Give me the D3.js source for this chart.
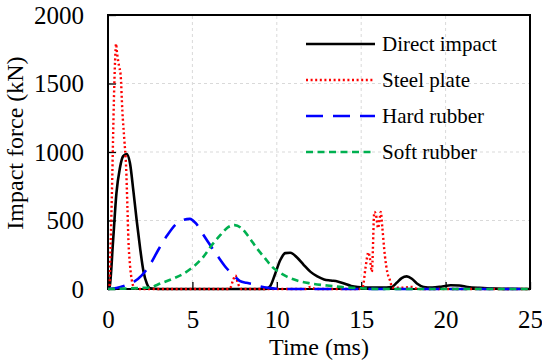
<!DOCTYPE html>
<html>
<head>
<meta charset="utf-8">
<script src="https://cdn.jsdelivr.net/npm/d3@7"></script>
<style>
  body { margin: 0; background: #fff; }
  svg, svg text { font-family: "Liberation Serif", "Times New Roman", serif; }
  svg { display: block; }
</style>
</head>
<body>
<svg id="chart"></svg>
<script>
// series names
var seriesNames = ["Direct impact", "Steel plate", "Hard rubber", "Soft rubber"]

// Direct impact (black solid)
var directT = [0, 0.1, 0.3, 0.5, 0.7, 0.9, 1.1, 1.3, 1.5, 1.7, 1.9, 2.1, 2.3, 2.5, 3, 5, 8, 9.3, 9.6, 9.9, 10.2, 10.5, 10.8, 11.2, 11.6, 12.0, 12.4, 12.8, 13.2, 13.6, 14.0, 14.4, 14.8, 15.5, 16.2, 16.8, 17.1, 17.4, 17.7, 18.0, 18.3, 18.7, 19.2, 19.8, 20.3, 20.8, 21.3, 22, 23, 25]
var directF = [0, 20, 350, 700, 880, 970, 985, 920, 720, 500, 300, 130, 40, 5, 0, 0, 0, 0, 20, 110, 210, 262, 265, 230, 175, 125, 92, 70, 62, 55, 40, 22, 14, 10, 10, 15, 45, 80, 92, 75, 40, 15, 10, 18, 27, 25, 15, 8, 3, 0]

// Steel plate (red dotted)
var steelT = [0, 0.08, 0.15, 0.25, 0.3, 0.35, 0.42, 0.48, 0.52, 0.56, 0.65, 0.75, 0.85, 0.97, 1.07, 1.15, 1.21, 1.3, 1.41, 1.55, 1.7, 3, 7.2, 7.4, 7.55, 7.7, 7.9, 11.7, 12.0, 12.3, 14.9, 15.1, 15.25, 15.43, 15.52, 15.63, 15.78, 15.88, 16.0, 16.1, 16.16, 16.25, 16.4, 16.55, 16.7, 16.85, 17.5, 18.0, 18.4, 25]
var steelF = [0, 0, 300, 800, 1100, 1380, 1667, 1790, 1740, 1700, 1630, 1560, 1300, 1084, 900, 600, 357, 180, 65, 10, 0, 0, 0, 60, 100, 40, 0, 0, 15, 0, 0, 20, 150, 268, 220, 126, 563, 540, 444, 520, 563, 450, 247, 120, 65, 10, 10, 15, 0, 0]

// Hard rubber (blue long dash)
var hardT = [0, 0.5, 1, 1.5, 2, 2.5, 3, 3.5, 4, 4.5, 4.85, 5.2, 5.6, 6, 6.5, 7, 7.5, 7.8, 8.2, 8.6, 9, 9.5, 10, 11, 25]
var hardF = [0, 8, 25, 50, 100, 180, 290, 390, 470, 505, 512, 480, 405, 330, 240, 155, 92, 60, 45, 35, 20, 8, 2, 0, 0]

// Soft rubber (green dashed)
var softT = [0, 1, 2, 2.5, 3.1, 3.9, 4.5, 5.05, 5.65, 6.15, 6.65, 7.1, 7.5, 7.9, 8.4, 8.8, 9.3, 9.7, 10.2, 10.6, 11.2, 12, 13, 14, 15, 16, 25]
var softF = [0, 3, 8, 12, 40, 78, 114, 162, 235, 320, 393, 450, 466, 445, 370, 300, 225, 165, 118, 90, 62, 41, 25, 12, 5, 0, 0]

var xTicks = [0, 5, 10, 15, 20, 25]
var yTicks = [0, 500, 1000, 1500, 2000]

var dimensions = {
    width: 542,
    height: 363,
    margin: { top: 15, bottom: 74, right: 12, left: 108 }
}

var svg = d3.select("#chart")
    .attr("width", dimensions.width)
    .attr("height", dimensions.height)

var xScale = d3.scaleLinear()
    .domain([0, 25])
    .range([dimensions.margin.left, dimensions.width - dimensions.margin.right])

var yScale = d3.scaleLinear()
    .domain([0, 2000])
    .range([dimensions.height - dimensions.margin.bottom, dimensions.margin.top])

// grid
svg.append("g")
    .selectAll("line")
    .data(xTicks.slice(1, -1))
    .enter()
    .append("line")
    .attr("x1", d => xScale(d)).attr("x2", d => xScale(d))
    .attr("y1", yScale(0)).attr("y2", yScale(2000))
    .attr("stroke", "#d9d9d9").attr("stroke-dasharray", "3,3")

svg.append("g")
    .selectAll("line")
    .data(yTicks.slice(1, -1))
    .enter()
    .append("line")
    .attr("y1", d => yScale(d)).attr("y2", d => yScale(d))
    .attr("x1", xScale(0)).attr("x2", xScale(25))
    .attr("stroke", "#d9d9d9").attr("stroke-dasharray", "3,3")

// axes
var xAxisGen = d3.axisBottom(xScale).tickValues(xTicks).tickFormat(d3.format("d"))
    .tickSizeInner(-7).tickSizeOuter(0).tickPadding(21)
var xAxis = svg.append("g")
    .attr("transform", `translate(0,${yScale(0)})`)
    .call(xAxisGen)
    .attr("font-family", null)
    .attr("font-size", 25)

var yAxisGen = d3.axisLeft(yScale).tickValues(yTicks).tickFormat(d3.format("d"))
    .tickSizeInner(-8).tickSizeOuter(0).tickPadding(24)
var yAxis = svg.append("g")
    .attr("transform", `translate(${xScale(0)},0)`)
    .call(yAxisGen)
    .attr("font-family", null)
    .attr("font-size", 25)

svg.selectAll(".tick text").attr("fill", "#000")
svg.selectAll(".tick line").attr("stroke", "#000").attr("stroke-width", 1.3)
svg.selectAll(".domain").remove()

// frame
svg.append("rect")
    .attr("x", xScale(0)).attr("y", yScale(2000))
    .attr("width", xScale(25) - xScale(0))
    .attr("height", yScale(0) - yScale(2000))
    .attr("fill", "none").attr("stroke", "#000").attr("stroke-width", 2)

// series
var series = [
    { name: seriesNames[0], t: directT, f: directF, color: "#000000", dash: null, width: 2.6 },
    { name: seriesNames[1], t: steelT, f: steelF, color: "#ff0000", dash: "2,2.6", width: 2.4 },
    { name: seriesNames[2], t: hardT, f: hardF, color: "#0000ff", dash: "17,10", width: 2.6 },
    { name: seriesNames[3], t: softT, f: softF, color: "#00b050", dash: "7,4.5", width: 2.6 }
]

var line = d3.line()
    .x(d => xScale(d[0]))
    .y(d => yScale(d[1]))
    .curve(d3.curveMonotoneX)

svg.append("g")
    .selectAll("path")
    .data(series)
    .enter()
    .append("path")
    .attr("d", s => line(s.t.map((t, i) => [t, s.f[i]])))
    .attr("fill", "none")
    .attr("stroke", s => s.color)
    .attr("stroke-width", s => s.width)
    .attr("stroke-dasharray", s => s.dash)

// legend
var legend = svg.append("g")
    .selectAll("g")
    .data(series)
    .enter()
    .append("g")
    .attr("transform", (d, i) => `translate(306,${44 + i * 36})`)

legend.append("line")
    .attr("x1", 0).attr("x2", 69)
    .attr("stroke", d => d.color)
    .attr("stroke-width", d => d.width)
    .attr("stroke-dasharray", d => d.dash)

legend.append("text")
    .attr("x", 76)
    .attr("dy", "0.33em")
    .attr("font-size", 21)
    .text(d => d.name)

// titles
svg.append("text")
    .attr("x", (xScale(0) + xScale(25)) / 2)
    .attr("y", 355)
    .attr("text-anchor", "middle")
    .attr("font-size", 24)
    .text("Time (ms)")

svg.append("text")
    .attr("transform", "translate(23,143) rotate(-90)")
    .attr("text-anchor", "middle")
    .attr("font-size", 24)
    .text("Impact force (kN)")
</script>
</body>
</html>
